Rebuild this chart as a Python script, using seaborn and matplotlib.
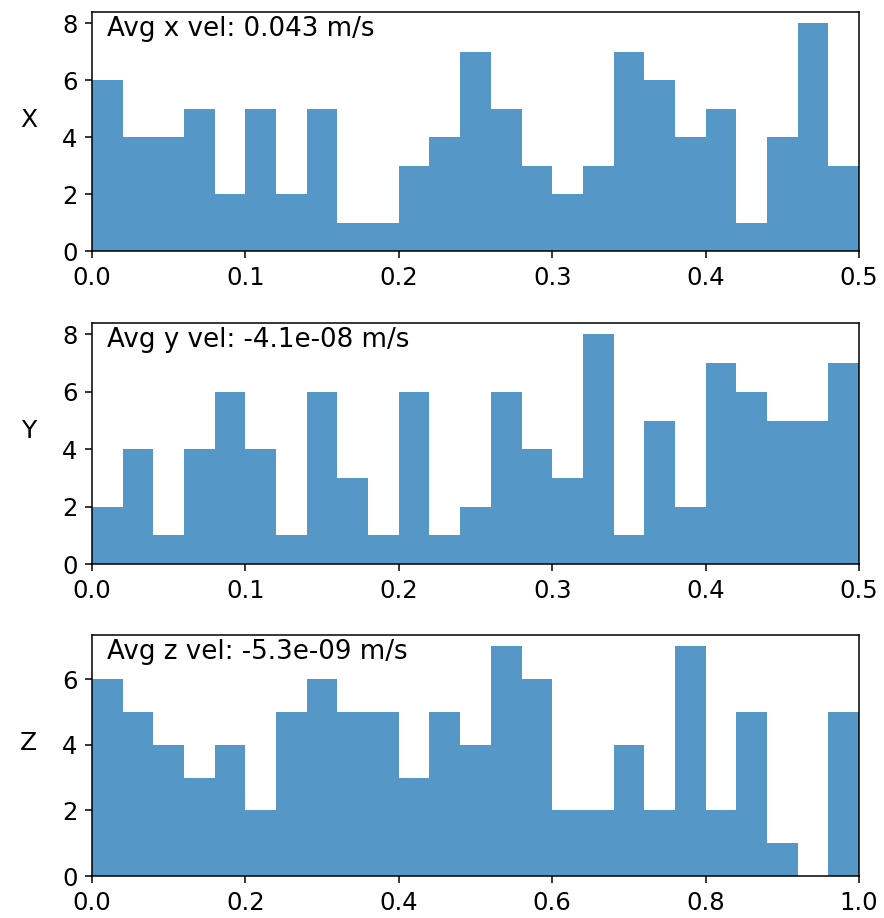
import numpy as np
import pandas as pd
import matplotlib
matplotlib.use("Agg")
import matplotlib.pyplot as plt
import seaborn as sns

# Per-bin counts of the sampled velocity components
x_counts = [6, 4, 4, 5, 2, 5, 2, 5, 1, 1, 3, 4, 7, 5, 3, 2, 3, 7, 6, 4, 5, 1, 4, 8, 3]
y_counts = [2, 4, 1, 4, 6, 4, 1, 6, 3, 1, 6, 1, 2, 6, 4, 3, 8, 1, 5, 2, 7, 6, 5, 5, 7]
z_counts = [6, 5, 4, 3, 4, 2, 5, 6, 5, 5, 3, 5, 4, 7, 6, 2, 2, 4, 2, 7, 2, 5, 1, 0, 5]

x_range = (0.0, 0.5)
y_range = (0.0, 0.5)
z_range = (0.0, 1.0)

axis_names = ["X", "Y", "Z"]
avg_labels = ["Avg x vel: 0.043 m/s", "Avg y vel: -4.1e-08 m/s", "Avg z vel: -5.3e-09 m/s"]
x_ticks = [[0.0, 0.1, 0.2, 0.3, 0.4, 0.5],
           [0.0, 0.1, 0.2, 0.3, 0.4, 0.5],
           [0.0, 0.2, 0.4, 0.6, 0.8, 1.0]]

sns.set_style("ticks")
plt.rcParams["font.family"] = ["DejaVu Sans"]
plt.rcParams["text.color"] = "black"
plt.rcParams["axes.labelcolor"] = "black"
plt.rcParams["xtick.major.size"] = 5
plt.rcParams["ytick.major.size"] = 5
plt.rcParams["xtick.major.pad"] = 5.5
plt.rcParams["ytick.major.pad"] = 5.5
plt.rcParams["xtick.major.width"] = 1.1
plt.rcParams["ytick.major.width"] = 1.1
plt.rcParams["axes.linewidth"] = 1.1
plt.rcParams["axes.edgecolor"] = "black"
plt.rcParams["xtick.color"] = "black"
plt.rcParams["ytick.color"] = "black"

fig = plt.figure(figsize=(8.84, 9.18), dpi=100)
W, H = 884, 918
boxes = [(12, 251), (323, 564), (635, 876)]
left, right = 92, 859

panels = [(x_counts, x_range), (y_counts, y_range), (z_counts, z_range)]
for i, ((counts, rng), (top, bot)) in enumerate(zip(panels, boxes)):
    ax = fig.add_axes([left / W, 1 - bot / H, (right - left) / W, (bot - top) / H])
    n = len(counts)
    edges = np.linspace(rng[0], rng[1], n + 1)
    centers = (edges[:-1] + edges[1:]) / 2
    df = pd.DataFrame({"v": centers, "count": counts})
    sns.histplot(data=df, x="v", weights="count", bins=n, binrange=rng, ax=ax,
                 color="#1f77b4", alpha=0.76, edgecolor="none", linewidth=0)
    ax.set_xlim(rng)
    ax.set_ylim(0, max(counts) * 1.05)
    ax.set_xticks(x_ticks[i])
    ax.set_xticklabels([f"{t:.1f}" for t in x_ticks[i]], fontsize=17.5)
    ax.yaxis.set_major_locator(matplotlib.ticker.MultipleLocator(2))
    ax.tick_params(axis="y", labelsize=17.5)
    ax.set_xlabel("")
    ax.set_ylabel(axis_names[i], rotation=0, fontsize=18, labelpad=24)
    ax.text(0.02, 0.9, avg_labels[i], transform=ax.transAxes,
            ha="left", va="baseline", fontsize=18.8)
    for s in ax.spines.values():
        s.set_visible(True)

fig.savefig("out.png", dpi=100)
